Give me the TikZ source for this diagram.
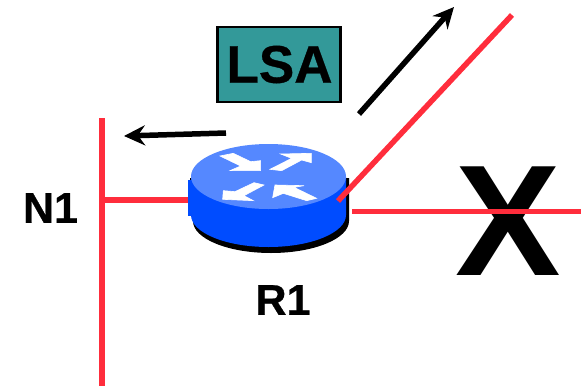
\documentclass[tikz,border=0pt]{standalone}
\usepackage{fontspec}
\setmainfont{Liberation Sans}
\newfontfamily\heavy[BoldFont={Liberation Sans Bold},BoldFeatures={FakeBold=0.6}]{Liberation Sans}
\usetikzlibrary{arrows.meta}
\definecolor{lnred}{RGB}{255,45,60}
\definecolor{rtop}{RGB}{85,136,255}
\definecolor{rbody}{RGB}{0,76,255}
\definecolor{lsateal}{RGB}{51,153,153}
\tikzset{
  x=1pt,y=-1pt,
  redline/.style={draw=lnred,line width=5.5pt},
  flow/.style={draw=black,line width=5.5pt,-{Stealth[length=21pt,width=20pt,inset=7pt]}},
  lbl/.style={inner sep=0pt,font=\heavy\bfseries\fontsize{43}{43}\selectfont},
  turn/.style={fill=white,draw=white,line width=0.6pt}
}
\begin{document}
\begin{tikzpicture}
\useasboundingbox (0,0) rectangle (581,386);
% labels
\node[lbl] (n1) at (50.5,208) {N1};
\node[lbl] (r1) at (283,300) {R1};
\node[inner sep=0pt,font=\bfseries\fontsize{158}{158}\selectfont] (x) at (508,221) {X};
% LSA box
\node[draw=black,line width=2.5pt,fill=lsateal,minimum width=123pt,minimum height=75pt,inner sep=0pt,font=\heavy\bfseries\fontsize{53}{53}\selectfont] (lsa) at (279,64.5) {\kern1pt LSA};
% network
\coordinate (ntop) at (102,118);
\coordinate (nbot) at (102,386);
\coordinate (njoin) at (102,200);
\coordinate (rleft) at (190,200);
\coordinate (rdiag) at (338,201);
\coordinate (dend) at (512,15);
\coordinate (hstart) at (352,211.5);
\coordinate (hend) at (581,211.5);
\draw[redline] (ntop) -- (nbot);
\draw[redline] (njoin) -- (rleft);
\draw[redline] (hstart) -- (hend);
% router
\fill[black] (190,178) -- (349,178) -- (349,221) arc[start angle=0,end angle=180,x radius=78,y radius=32] -- cycle;
\fill[rbody] (191,177) -- (346,177) -- (346,215) arc[start angle=0,end angle=180,x radius=77.5,y radius=32] -- cycle;
\fill[rbody] (188,180) rectangle (196,216);
\fill[rtop] (268.5,176.5) ellipse[x radius=77.5,y radius=32.5];
\begin{scope}[shift={(170,130)},x=0.3333pt,y=-0.3333pt]
\filldraw[turn] (150,78) -- (190,70) -- (242,95) -- (272,92) -- (272,122) -- (180,122) -- (212,108) -- cycle;
\filldraw[turn] (332,72) -- (424,70) -- (424,98) -- (395,90) -- (335,122) -- (300,118) -- (365,85) -- cycle;
\filldraw[turn] (282,165) -- (252,158) -- (195,185) -- (160,182) -- (158,208) -- (250,212) -- (222,197) -- cycle;
\filldraw[turn] (315,165) -- (308,203) -- (340,190) -- (410,212) -- (440,205) -- (372,172) -- (402,167) -- cycle;
\end{scope}
\draw[redline] (rdiag) -- (dend);
% flow arrows
\coordinate (a1s) at (359,114);
\coordinate (a1e) at (454,7);
\coordinate (a2s) at (226,133);
\coordinate (a2e) at (124,136);
\draw[flow] (a1s) -- (a1e);
\draw[flow] (a2s) -- (a2e);
\end{tikzpicture}
\end{document}
